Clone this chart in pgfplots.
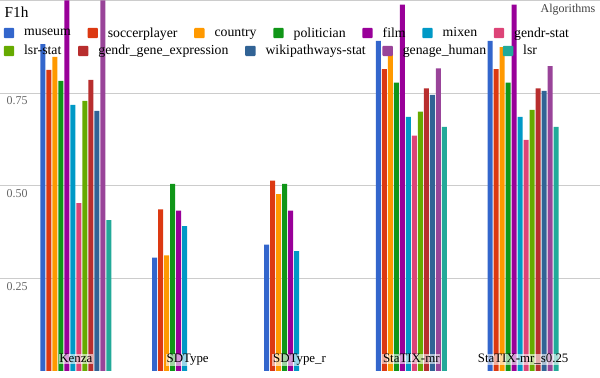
\documentclass[border=0pt]{standalone}
\usepackage{pgfplots}
\pgfplotsset{compat=1.18}
\usepackage{pgfplotstable}
\usepackage{fontspec}
\setmainfont{Liberation Serif}

\definecolor{c1}{HTML}{3366CC}
\definecolor{c2}{HTML}{DC3912}
\definecolor{c3}{HTML}{FF9900}
\definecolor{c4}{HTML}{109618}
\definecolor{c5}{HTML}{990099}
\definecolor{c6}{HTML}{0099C6}
\definecolor{c7}{HTML}{DD4477}
\definecolor{c8}{HTML}{66AA00}
\definecolor{c9}{HTML}{B82E2E}
\definecolor{c10}{HTML}{316395}
\definecolor{c11}{HTML}{994499}
\definecolor{c12}{HTML}{22AA99}

\pgfplotstableread{
x museum soccer country politician film mixen gstat lstat ggene wiki genage lsr
0 0.882 0.813 0.848 0.783 1.000 0.718 0.453 0.729 0.786 0.702 1.000 0.407
1 0.306 0.436 0.312 0.505 0.433 0.391 nan nan nan nan nan nan
2 0.341 0.514 0.477 0.505 0.433 0.323 nan nan nan nan nan nan
3 0.891 0.815 0.855 0.778 0.989 0.686 0.635 0.700 0.763 0.745 0.817 0.659
4 0.891 0.815 0.874 0.778 0.989 0.686 0.624 0.705 0.763 0.756 0.823 0.659
}\datatable

\pgfplotsset{
  legsq/.style={
    legend image code/.code={\path[draw=none,fill,rounded corners=1bp] (0bp,-5.2bp) rectangle (10.4bp,5.2bp);},
    legend columns=-1,
    legend style={draw=none, fill=none, inner sep=0pt, outer sep=0pt,
      font=\fontsize{13.8bp}{16bp}\selectfont,
      nodes={inner sep=0pt},
      /tikz/every odd column/.append style={column sep=10bp},
      /tikz/every even column/.append style={column sep=16.7bp}},
  },
  mybar/.style={ybar, bar width=0.04464, draw=none, forget plot},
}
\tikzset{
  catlab/.style={anchor=base, yshift=8bp, inner sep=0.8bp, fill=white, fill opacity=0.6, text opacity=1, font=\fontsize{12.9bp}{15bp}\selectfont},
}

\begin{document}
\begin{tikzpicture}
\begin{axis}[
  width=600bp, height=371bp, scale only axis,
  xmin=-0.674, xmax=4.683, ymin=0, ymax=1,
  axis line style={draw=none},
  major tick length=0pt,
  xtick={0,1,2,3,4},
  xticklabels={},
  ytick={0.25,0.5,0.75},
  yticklabels={0.25,0.50,0.75},
  yticklabel style={anchor=north west, inner sep=0pt, xshift=6bp, yshift=-3.7bp, text=black!60, font=\fontsize{12bp}{14bp}\selectfont},
  extra y ticks={1}, extra y tick labels={},
  extra y tick style={grid=major},
  ymajorgrids,
  grid style={draw=black!20, line width=1bp},
  legsq,
  legend style={at={(0,1)}, anchor=north west, xshift=3.3bp, yshift=-27bp},
]
\addplot[mybar, bar shift=-0.29464, fill=c1]  table[x=x, y=museum]     {\datatable};
\addplot[mybar, bar shift=-0.24107, fill=c2]  table[x=x, y=soccer]     {\datatable};
\addplot[mybar, bar shift=-0.18750, fill=c3]  table[x=x, y=country]    {\datatable};
\addplot[mybar, bar shift=-0.13393, fill=c4]  table[x=x, y=politician] {\datatable};
\addplot[mybar, bar shift=-0.08036, fill=c5]  table[x=x, y=film]       {\datatable};
\addplot[mybar, bar shift=-0.02679, fill=c6]  table[x=x, y=mixen]      {\datatable};
\addplot[mybar, bar shift=0.02679,  fill=c7]  table[x=x, y=gstat]      {\datatable};
\addplot[mybar, bar shift=0.08036,  fill=c8]  table[x=x, y=lstat]      {\datatable};
\addplot[mybar, bar shift=0.13393,  fill=c9]  table[x=x, y=ggene]      {\datatable};
\addplot[mybar, bar shift=0.18750,  fill=c10] table[x=x, y=wiki]       {\datatable};
\addplot[mybar, bar shift=0.24107,  fill=c11] table[x=x, y=genage]     {\datatable};
\addplot[mybar, bar shift=0.29464,  fill=c12] table[x=x, y=lsr]        {\datatable};
\addlegendimage{fill=c1}\addlegendentry{museum}
\addlegendimage{fill=c2}\addlegendentry{soccerplayer}
\addlegendimage{fill=c3}\addlegendentry{country}
\addlegendimage{fill=c4}\addlegendentry{politician}
\addlegendimage{fill=c5}\addlegendentry{film}
\addlegendimage{fill=c6}\addlegendentry{mixen}
\addlegendimage{fill=c7}\addlegendentry{gendr-stat}
\node[catlab] at (axis cs:0,0) {Kenza};
\node[catlab] at (axis cs:1,0) {SDType};
\node[catlab] at (axis cs:2,0) {SDType\_r};
\node[catlab] at (axis cs:3,0) {StaTIX-mr};
\node[catlab] at (axis cs:4,0) {StaTIX-mr\_s0.25};
\node[anchor=base west, inner sep=0pt, font=\fontsize{15.3bp}{18bp}\selectfont, xshift=4bp, yshift=-16.7bp] at (rel axis cs:0,1) {F1h};
\node[anchor=base east, inner sep=0pt, font=\fontsize{12bp}{14bp}\selectfont, text=black!75, xshift=596bp, yshift=-12.3bp] at (rel axis cs:0,1) {Algorithms};
\end{axis}
\begin{axis}[
  width=600bp, height=371bp, scale only axis,
  xmin=0, xmax=1, ymin=0, ymax=1, hide axis,
  legsq,
  legend style={at={(0,1)}, anchor=north west, xshift=3.3bp, yshift=-45bp},
]
\addlegendimage{fill=c8}\addlegendentry{lsr-stat}
\addlegendimage{fill=c9}\addlegendentry{gendr\_gene\_expression}
\addlegendimage{fill=c10}\addlegendentry{wikipathways-stat}
\addlegendimage{fill=c11}\addlegendentry{genage\_human}
\addlegendimage{fill=c12}\addlegendentry{lsr}
\end{axis}
\end{tikzpicture}
\end{document}
